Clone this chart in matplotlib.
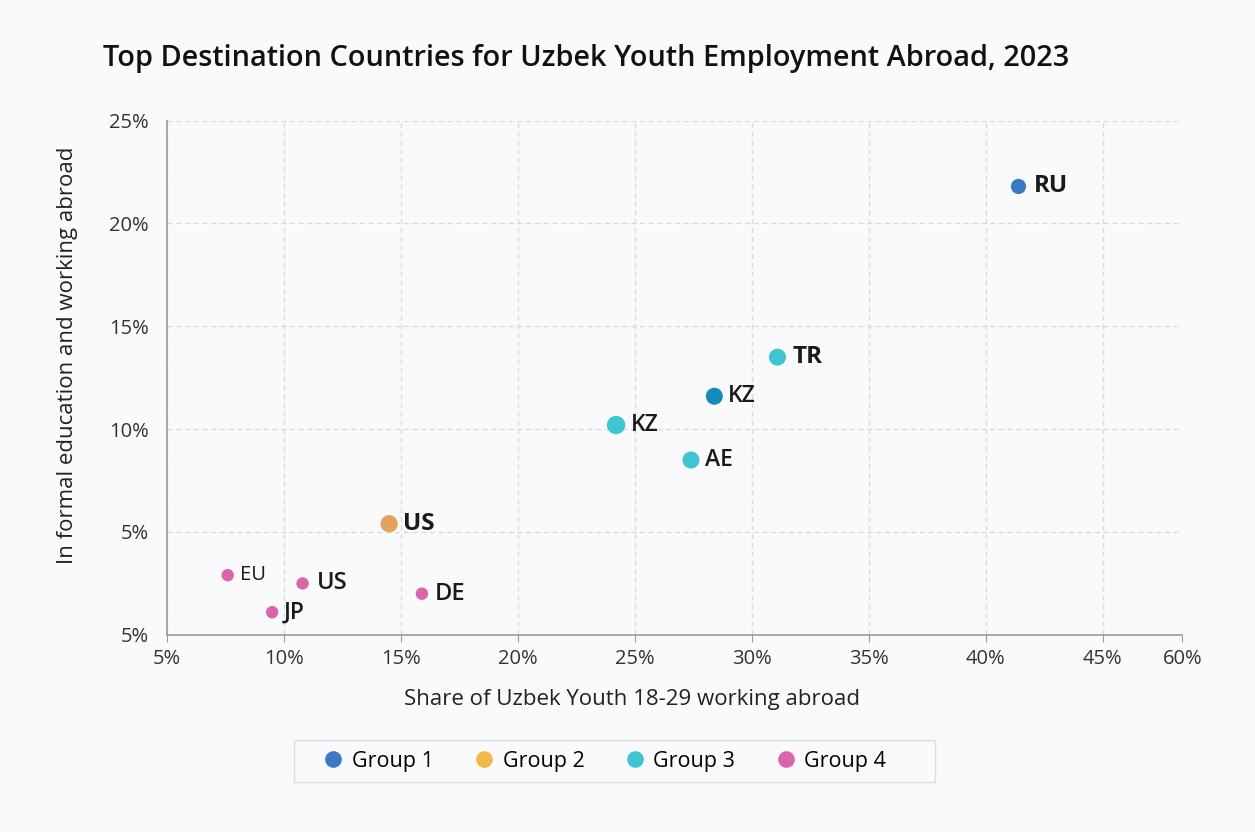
import numpy as np
import matplotlib.pyplot as plt
from matplotlib.lines import Line2D
from matplotlib.patches import Rectangle

plt.rcParams['font.family'] = ['Open Sans', 'DejaVu Sans']

# data (percent)
countries = ['RU', 'TR', 'KZ', 'KZ', 'AE', 'US', 'EU', 'US', 'JP', 'DE']
groups = [1, 3, 3, 3, 3, 2, 4, 4, 4, 4]
share_abroad = [41.4, 31.1, 28.4, 24.2, 27.4, 14.5, 7.6, 10.8, 9.5, 15.9]
in_education = [21.8, 13.5, 11.6, 10.2, 8.5, 5.4, 2.9, 2.5, 1.1, 2.0]

x_tick_labels = ['5%', '10%', '15%', '20%', '25%', '30%', '35%', '40%', '45%', '60%']
y_tick_labels = ['5%', '5%', '10%', '15%', '20%', '25%']
group_names = ['Group 1', 'Group 2', 'Group 3', 'Group 4']

# styling
bg = '#fafafc'
legend_colors = ['#3b78c6', '#f2b84b', '#3ec4d3', '#d965aa']
point_colors = ['#3b78c6', '#3ec4d3', '#168bb5', '#3ec4d3', '#3ec4d3',
                '#e3a25e', '#d965aa', '#d965aa', '#d965aa', '#d965aa']
point_sizes = [120, 150, 150, 175, 150, 155, 80, 80, 80, 80]
label_sizes = [17.5, 17.5, 16.5, 16.5, 16.5, 17.5, 14.5, 17, 16.5, 17]
label_weights = ['bold', 'bold', 'semibold', 'semibold', 'semibold', 'bold',
                 'normal', 'semibold', 'semibold', 'semibold']
label_offsets = [11, 11, 10, 11, 10, 10, 9, 10, 8, 9]

# the 60% tick sits closer than the others on the original axis
x_tick_pos = [5, 10, 15, 20, 25, 30, 35, 40, 45, 48.4]
y_tick_pos = [0, 5, 10, 15, 20, 25]

fig = plt.figure(figsize=(12.55, 8.32), dpi=100, facecolor=bg)
ax = fig.add_axes([0.133, 0.237, 0.809, 0.618], facecolor=bg)

ax.scatter(share_abroad, in_education, s=point_sizes, c=point_colors,
           edgecolors='none', zorder=3)
for i, name in enumerate(countries):
    ax.annotate(name, (share_abroad[i], in_education[i]),
                xytext=(label_offsets[i], 0), textcoords='offset points',
                va='center', ha='left', fontsize=label_sizes[i],
                fontweight=label_weights[i], color='#1a1a1a', zorder=4)

ax.set_xlim(5, 48.4)
ax.set_ylim(0, 25)
ax.set_xticks(x_tick_pos)
ax.set_xticklabels(x_tick_labels)
ax.set_yticks(y_tick_pos)
ax.set_yticklabels(y_tick_labels)
ax.tick_params(labelsize=14.5, colors='#333333', length=5, color='#999999')
ax.tick_params(axis='y', length=0, pad=13)
ax.tick_params(axis='x', pad=5)

ax.grid(True, linestyle=(0, (4, 3)), color='#d9d9dd', linewidth=0.9)
ax.set_axisbelow(True)
for side in ['top', 'right']:
    ax.spines[side].set_visible(False)
for side in ['left', 'bottom']:
    ax.spines[side].set_color('#9a9a9a')
    ax.spines[side].set_linewidth(1.2)

ax.set_xlabel('Share of Uzbek Youth 18-29 working abroad', fontsize=16,
              color='#222222', labelpad=14)
ax.xaxis.set_label_coords(0.458, -0.105)
ax.set_ylabel('In formal education and working abroad', fontsize=16,
              color='#222222')
ax.yaxis.set_label_coords(-0.088, 0.543)

fig.text(0.082, 0.93, 'Top Destination Countries for Uzbek Youth Employment Abroad, 2023',
         fontsize=20.8, fontweight='semibold', color='#111111', va='center')

# legend box drawn separately so it can be wider than the entries
fig.patches.append(Rectangle((0.2343, 0.0601), 0.5108, 0.0505, transform=fig.transFigure,
                             facecolor=bg, edgecolor='#dddddd', linewidth=1.0, zorder=0))
handles = [Line2D([], [], marker='o', linestyle='none', markersize=12,
                  markerfacecolor=c, markeredgecolor='none') for c in legend_colors]
fig.legend(handles, group_names, loc='center', bbox_to_anchor=(0.4815, 0.085),
           ncol=4, fontsize=15.5, frameon=False, handletextpad=0.35,
           columnspacing=1.85, borderaxespad=0, handlelength=1.0)

fig.savefig('out.png', dpi=100, facecolor=bg)
